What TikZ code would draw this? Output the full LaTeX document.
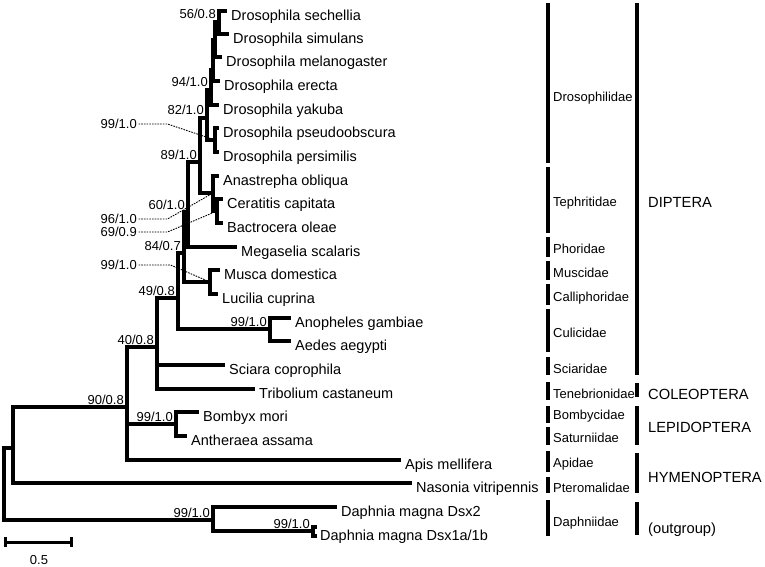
\documentclass[tikz,border=0pt]{standalone}
\usepackage{fontspec}
\setmainfont{Liberation Sans}
\usetikzlibrary{positioning, calc}
\tikzset{
    branch/.style={line width=4pt, line cap=rect, line join=miter},
    leader/.style={line width=0.9pt, dash pattern=on 1.6pt off 1.1pt},
    taxon/.style={font=\fontsize{14.5}{17}\selectfont, inner sep=0pt, text height=10.4pt, text depth=0pt, yshift=-4.3pt},
    support/.style={font=\fontsize{13}{15}\selectfont, inner sep=0pt, anchor=base east},
    family/.style={font=\fontsize{13}{15}\selectfont, inner sep=0pt, text height=9.4pt, text depth=0pt, anchor=west},
    order/.style={font=\fontsize{14.7}{17}\selectfont, inner sep=0pt, text height=10.5pt, text depth=0pt, anchor=west},
    fambar/.style={line width=3.4pt},
    ordbar/.style={line width=4.4pt},
    scalebar/.style={line width=3pt}
}

\begin{document}
\begin{tikzpicture}[x=1pt, y=-1pt, node distance=6pt]
    \path[use as bounding box, fill=white] (0,0) rectangle (765,567);
    % internal nodes
    \coordinate (R) at (4,484);
    \coordinate (I) at (13,448);
    \coordinate (N90) at (127,407);
    \coordinate (N40) at (157,347);
    \coordinate (N49) at (178,298);
    \coordinate (N84) at (184,253);
    \coordinate (N60) at (188,212);
    \coordinate (N89) at (200,162);
    \coordinate (N82) at (207,118);
    \coordinate (N94) at (211,90);
    \coordinate (N3) at (213,70);
    \coordinate (N2) at (215,40);
    \coordinate (Nss) at (219,22);
    \coordinate (N99) at (215,140);
    \coordinate (Nteph) at (213,193);
    \coordinate (Ncb) at (217,211);
    \coordinate (Nmus) at (210,282);
    \coordinate (Ncul) at (270,329);
    \coordinate (Nlep) at (176,424);
    \coordinate (D) at (213,520);
    \coordinate (N1ab) at (313,531);
    % tips
    \coordinate (sec) at (225,11);
    \coordinate (sim) at (227,34);
    \coordinate (mel) at (220,57);
    \coordinate (ere) at (218,81);
    \coordinate (yak) at (217,105);
    \coordinate (pse) at (217,128);
    \coordinate (per) at (217,152);
    \coordinate (ana) at (217,176);
    \coordinate (cer) at (221,199);
    \coordinate (bac) at (221,223);
    \coordinate (meg) at (235,247);
    \coordinate (mus) at (218,270);
    \coordinate (luc) at (216,294);
    \coordinate (ano) at (289,318);
    \coordinate (aed) at (289,341);
    \coordinate (sci) at (223,365);
    \coordinate (tri) at (253,389);
    \coordinate (bom) at (197,412);
    \coordinate (ant) at (185,436);
    \coordinate (apis) at (399,460);
    \coordinate (nas) at (410,483);
    \coordinate (dx2) at (335,507);
    \coordinate (d1a) at (315,527);
    \coordinate (d1b) at (315,536);

    % support values with leaders
    \node[support, anchor=east] (sPse) at (137,124) {99/1.0};
    \node[support, anchor=east] (sTep) at (137,219) {96/1.0};
    \node[support, anchor=east] (sCb) at (137,232) {69/0.9};
    \node[support, anchor=east] (sMus) at (137,265) {99/1.0};
    \draw[leader] ([xshift=1.5pt]sPse.east) -- ++(29,0) -- (N99);
    \draw[leader] ([xshift=1.5pt]sTep.east) -- ++(29,0) -- (Nteph);
    \draw[leader] ([xshift=1.5pt]sCb.east) -- ++(29,0) -- (Ncb);
    \draw[leader] ([xshift=1.5pt]sMus.east) -- ++(32,0) -- (Nmus);

    % branches
    \foreach \p/\c in {R/I, R/D, I/N90, I/nas, N90/N40, N90/Nlep, N90/apis,
        N40/N49, N40/sci, N40/tri, N49/N84, N49/Ncul, N84/N60, N84/Nmus,
        N60/N89, N60/meg, N89/N82, N89/Nteph, N82/N94, N82/N99,
        N94/N3, N94/yak, N3/N2, N3/ere, N2/Nss, N2/mel, Nss/sec, Nss/sim,
        N99/pse, N99/per, Nteph/ana, Nteph/Ncb, Ncb/cer, Ncb/bac,
        Nmus/mus, Nmus/luc, Ncul/ano, Ncul/aed, Nlep/bom, Nlep/ant,
        D/dx2, D/N1ab, N1ab/d1a, N1ab/d1b}
        \draw[branch] (\p) |- (\c);

    % taxa
    \node[taxon, right=of sec] (tsec) {Drosophila sechellia};
    \node[taxon, right=of sim] (tsim) {Drosophila simulans};
    \node[taxon, right=of mel] (tmel) {Drosophila melanogaster};
    \node[taxon, right=of ere] (tere) {Drosophila erecta};
    \node[taxon, right=of yak] (tyak) {Drosophila yakuba};
    \node[taxon, right=of pse] (tpse) {Drosophila pseudoobscura};
    \node[taxon, right=of per] (tper) {Drosophila persimilis};
    \node[taxon, right=of ana] (tana) {Anastrepha obliqua};
    \node[taxon, right=of cer] (tcer) {Ceratitis capitata};
    \node[taxon, right=of bac] (tbac) {Bactrocera oleae};
    \node[taxon, right=of meg] (tmeg) {Megaselia scalaris};
    \node[taxon, right=of mus] (tmus) {Musca domestica};
    \node[taxon, right=of luc] (tluc) {Lucilia cuprina};
    \node[taxon, right=of ano] (tano) {Anopheles gambiae};
    \node[taxon, right=of aed] (taed) {Aedes aegypti};
    \node[taxon, right=of sci] (tsci) {Sciara coprophila};
    \node[taxon, right=of tri] (ttri) {Tribolium castaneum};
    \node[taxon, right=of bom] (tbom) {Bombyx mori};
    \node[taxon, right=of ant] (tant) {Antheraea assama};
    \node[taxon, right=of apis] (tapis) {Apis mellifera};
    \node[taxon, right=of nas] (tnas) {Nasonia vitripennis};
    \node[taxon, right=of dx2] (tdx2) {Daphnia magna Dsx2};
    \node[taxon, right=7pt of N1ab] (td1ab) {Daphnia magna Dsx1a/1b};

    % support values at nodes
    \node[support] (s56) at ($(Nss)+(-3,-3)$) {56/0.8};
    \node[support] (s94) at ($(N94)+(-3,-3)$) {94/1.0};
    \node[support] (s82) at ($(N82)+(-3,-3)$) {82/1.0};
    \node[support] (s89) at ($(N89)+(-3,-3)$) {89/1.0};
    \node[support] (s60) at ($(N60)+(-3,-3)$) {60/1.0};
    \node[support] (s84) at ($(N84)+(-3,-3)$) {84/0.7};
    \node[support] (s49) at ($(N49)+(-3,-3)$) {49/0.8};
    \node[support] (s40) at ($(N40)+(-3,-3)$) {40/0.8};
    \node[support] (s90) at ($(N90)+(-3,-3)$) {90/0.8};
    \node[support] (sLep) at ($(Nlep)+(-3,-3)$) {99/1.0};
    \node[support] (sCul) at ($(Ncul)+(-3,-3)$) {99/1.0};
    \node[support] (sDap) at ($(D)+(-3,-3)$) {99/1.0};
    \node[support] (s1ab) at ($(N1ab)+(-3,-3)$) {99/1.0};

    % families
    \foreach \ya/\yb/\fam/\ym [count=\k] in {3/163/Drosophilidae/97, 167/233/Tephritidae/202,
        237/257/Phoridae/249, 261/280/Muscidae/273, 284/305/Calliphoridae/297,
        309/352/Culicidae/333, 357/375/Sciaridae/369, 382/400/Tenebrionidae/394,
        406/423/Bombycidae/415, 427/445/Saturniidae/438, 451/472/Apidae/463,
        477/493/Pteromalidae/488, 500/536/Daphniidae/522}
    {
        \draw[fambar] (548,\ya) -- (548,\yb);
        \node[family] (fam\k) at (553,\ym) {\fam};
    }
    % orders
    \foreach \ya/\yb/\ord/\ym [count=\k] in {3/375/DIPTERA/202, 383/397/COLEOPTERA/394,
        406/445/LEPIDOPTERA/427, 453/493/HYMENOPTERA/477, 502/535/{(outgroup)}/528}
    {
        \draw[ordbar] (637,\ya) -- (637,\yb);
        \node[order] (ord\k) at (648,\ym) {\ord};
    }

    % scale bar
    \coordinate (sbL) at (5,542);
    \coordinate (sbR) at (71,542);
    \draw[scalebar] (sbL) -- (sbR);
    \draw[scalebar] ($(sbL)+(0,-5)$) -- ($(sbL)+(0,5)$);
    \draw[scalebar] ($(sbR)+(0,-5)$) -- ($(sbR)+(0,5)$);
    \node[support, anchor=center] (sbLab) at (39,560) {0.5};
\end{tikzpicture}
\end{document}
